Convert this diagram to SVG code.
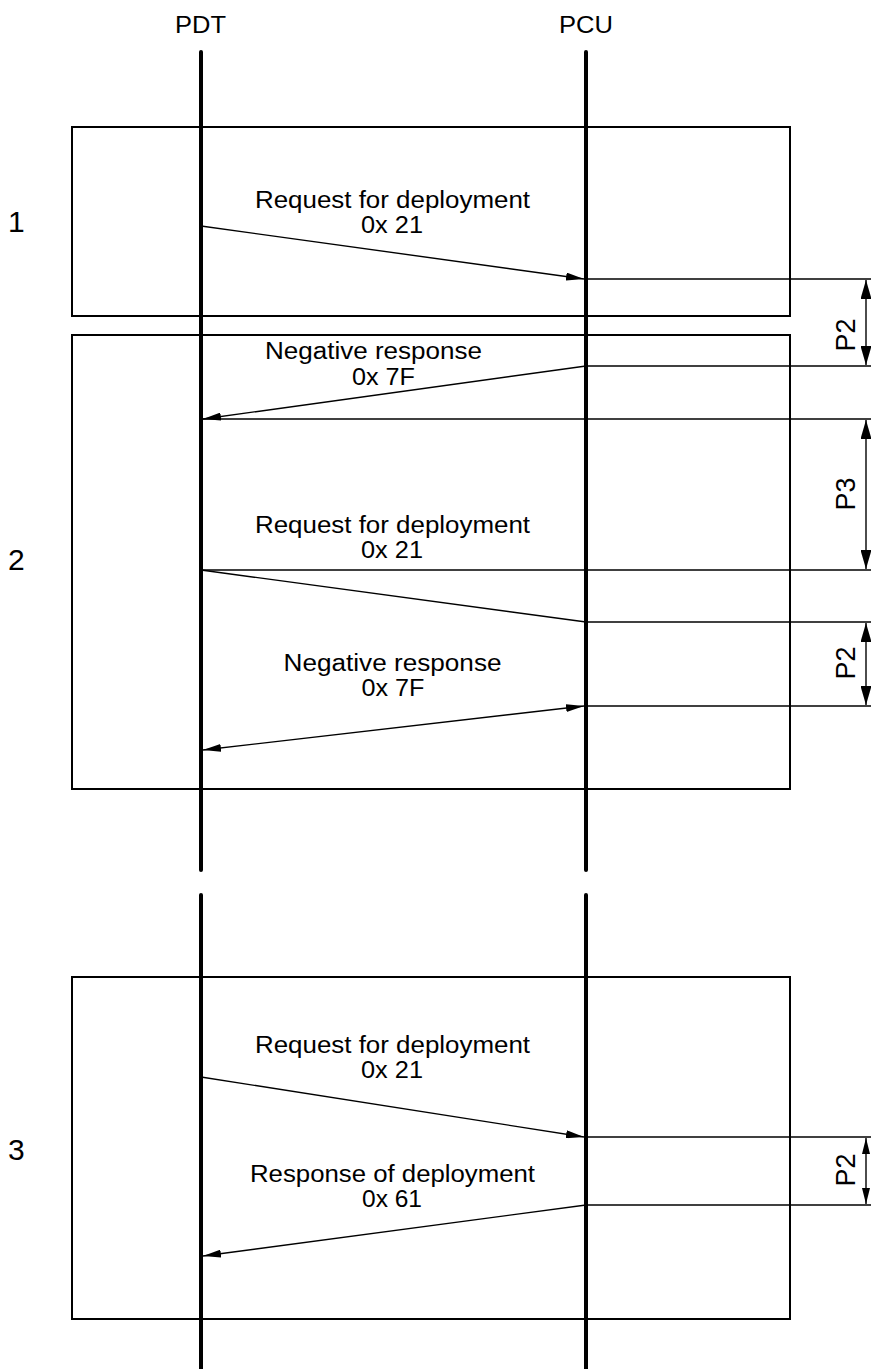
<svg xmlns="http://www.w3.org/2000/svg" width="871" height="1369" viewBox="0 0 871 1369">
<style>
text{font-family:"Liberation Sans",Arial,sans-serif;fill:#000}
.t{font-size:23.5px;text-anchor:middle}
.n{font-size:30px}
.d{font-size:27px;text-anchor:middle}
.life{stroke:#000;stroke-width:4;stroke-linecap:round;fill:none}
.box{fill:none;stroke:#000;stroke-width:2}
.msg{stroke:#000;stroke-width:1.4;fill:none}
.ext{stroke:#000;stroke-width:1.4;fill:none}
.dim{stroke:#000;stroke-width:1.4;fill:none}
</style>
<defs>
<marker id="ah" viewBox="0 0 18 8" refX="18" refY="4" markerWidth="18" markerHeight="8" markerUnits="userSpaceOnUse" orient="auto-start-reverse"><path d="M0,0 L18,4 L0,8 Z" fill="#000"/></marker>
<marker id="dh" viewBox="0 0 19 11" refX="19" refY="5.5" markerWidth="19" markerHeight="11" markerUnits="userSpaceOnUse" orient="auto-start-reverse"><path d="M0,0 L19,5.5 L0,11 Z" fill="#000"/></marker>
<marker id="dhs" viewBox="0 0 16 8" refX="16" refY="4" markerWidth="16" markerHeight="8" markerUnits="userSpaceOnUse" orient="auto-start-reverse"><path d="M0,0 L16,4 L0,8 Z" fill="#000"/></marker>
</defs>
<rect width="871" height="1369" fill="#fff"/>
<g id="frames">
<rect id="frame1" class="box" x="72" y="127" width="718" height="189"/>
<rect id="frame2" class="box" x="72" y="335" width="718" height="454"/>
<rect id="frame3" class="box" x="72" y="977" width="718" height="342"/>
</g>
<g id="PDT">
<text class="t" x="200.5" y="33" textLength="51" lengthAdjust="spacingAndGlyphs">PDT</text>
<line class="life" x1="201" y1="52" x2="201" y2="870"/>
<line class="life" x1="201" y1="895" x2="201" y2="1371"/>
</g>
<g id="PCU">
<text class="t" x="586" y="33" textLength="54" lengthAdjust="spacingAndGlyphs">PCU</text>
<line class="life" x1="586" y1="52" x2="586" y2="870"/>
<line class="life" x1="586" y1="895" x2="586" y2="1371"/>
</g>
<g id="step-numbers">
<text class="n" x="8" y="232">1</text>
<text class="n" x="8" y="570">2</text>
<text class="n" x="8" y="1160">3</text>
</g>
<g id="connectors">
<line class="msg" x1="201" y1="226" x2="584" y2="279" marker-end="url(#ah)"/>
<line class="msg" x1="586" y1="366" x2="203" y2="419" marker-end="url(#ah)"/>
<line class="msg" x1="201" y1="570" x2="586" y2="622"/>
<line class="msg" x1="203" y1="750" x2="584" y2="706" marker-start="url(#ah)" marker-end="url(#ah)"/>
<line class="msg" x1="201" y1="1077" x2="584" y2="1137" marker-end="url(#ah)"/>
<line class="msg" x1="586" y1="1205" x2="203" y2="1256" marker-end="url(#ah)"/>
<line class="ext" x1="586" y1="279" x2="871" y2="279"/>
<line class="ext" x1="586" y1="366" x2="871" y2="366"/>
<line class="ext" x1="201" y1="419" x2="871" y2="419"/>
<line class="ext" x1="201" y1="570" x2="871" y2="570"/>
<line class="ext" x1="586" y1="622" x2="871" y2="622"/>
<line class="ext" x1="586" y1="706" x2="871" y2="706"/>
<line class="ext" x1="586" y1="1137" x2="871" y2="1137"/>
<line class="ext" x1="586" y1="1205" x2="871" y2="1205"/>
</g>
<g id="dimensions">
<line class="dim" x1="866" y1="280" x2="866" y2="365" marker-start="url(#dh)" marker-end="url(#dh)"/>
<line class="dim" x1="866" y1="420" x2="866" y2="569" marker-start="url(#dh)" marker-end="url(#dh)"/>
<line class="dim" x1="866" y1="623" x2="866" y2="705" marker-start="url(#dh)" marker-end="url(#dh)"/>
<line class="dim" x1="866" y1="1138" x2="866" y2="1204" marker-start="url(#dhs)" marker-end="url(#dhs)"/>
<text class="d" transform="translate(855,335) rotate(-90)">P2</text>
<text class="d" transform="translate(855,494) rotate(-90)">P3</text>
<text class="d" transform="translate(855,663) rotate(-90)">P2</text>
<text class="d" transform="translate(855,1170) rotate(-90)">P2</text>
</g>
<g id="labels">
<text class="t" x="392.5" y="208" textLength="275" lengthAdjust="spacingAndGlyphs">Request for deployment</text>
<text class="t" x="392" y="233" textLength="62" lengthAdjust="spacingAndGlyphs">0x 21</text>
<text class="t" x="373.5" y="359" textLength="217" lengthAdjust="spacingAndGlyphs">Negative response</text>
<text class="t" x="383.5" y="385" textLength="63" lengthAdjust="spacingAndGlyphs">0x 7F</text>
<text class="t" x="392.5" y="533" textLength="275" lengthAdjust="spacingAndGlyphs">Request for deployment</text>
<text class="t" x="392" y="558" textLength="62" lengthAdjust="spacingAndGlyphs">0x 21</text>
<text class="t" x="392.5" y="671" textLength="218" lengthAdjust="spacingAndGlyphs">Negative response</text>
<text class="t" x="393" y="696" textLength="63" lengthAdjust="spacingAndGlyphs">0x 7F</text>
<text class="t" x="392.5" y="1053" textLength="275" lengthAdjust="spacingAndGlyphs">Request for deployment</text>
<text class="t" x="392" y="1078" textLength="62" lengthAdjust="spacingAndGlyphs">0x 21</text>
<text class="t" x="392.5" y="1182" textLength="285" lengthAdjust="spacingAndGlyphs">Response of deployment</text>
<text class="t" x="392" y="1207" textLength="60" lengthAdjust="spacingAndGlyphs">0x 61</text>
</g>
</svg>
